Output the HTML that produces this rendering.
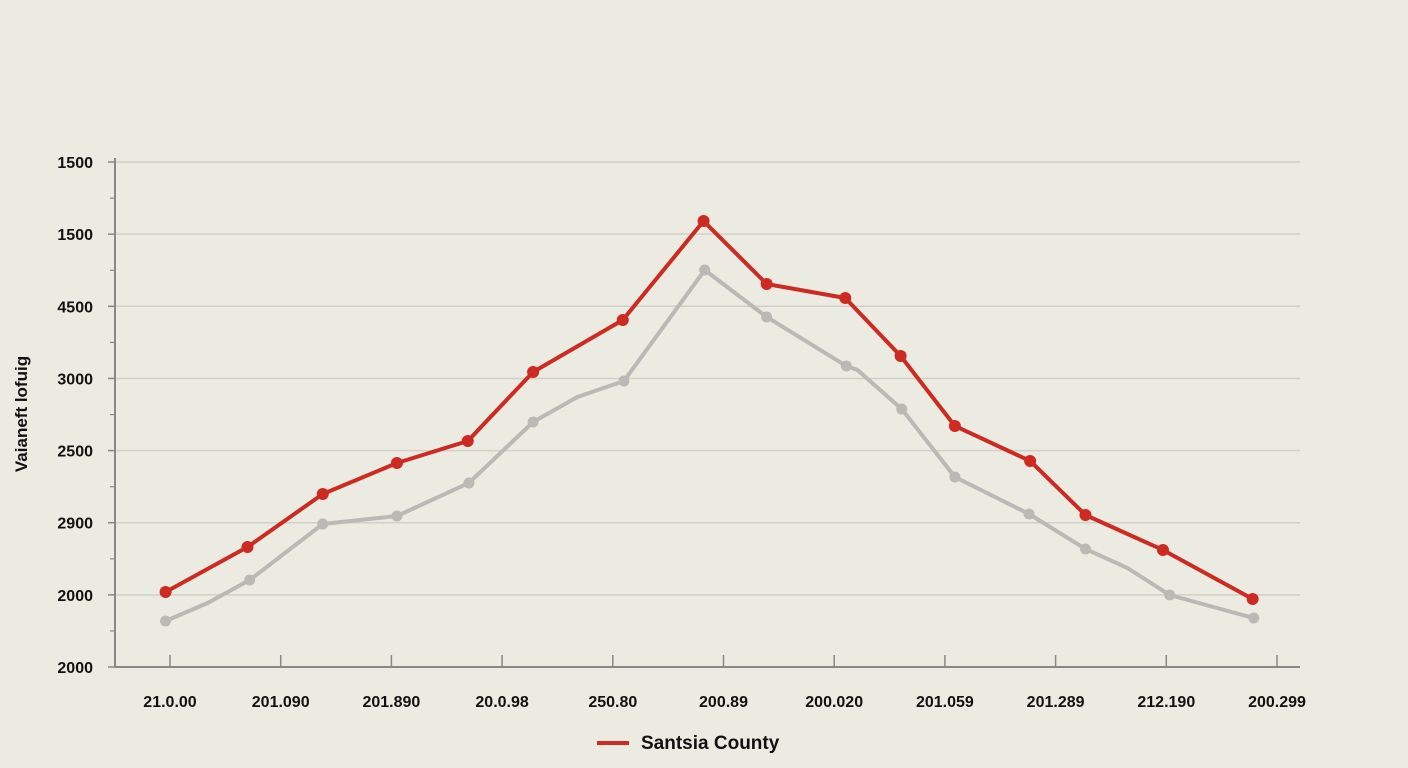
<!DOCTYPE html>
<html><head><meta charset="utf-8"><style>
body{margin:0;background:#ecebe1;}
svg{display:block;font-family:"Liberation Sans",sans-serif;}
</style></head><body>
<svg id="c" width="1408" height="768">
<rect width="1408" height="768" fill="#ecebe1"/>
</svg>
<script>
const yTickLabels=["2000","2000","2900","2500","3000","4500","1500","1500"];
const xTickLabels=["21.0.00","201.090","201.890","20.0.98","250.80","200.89","200.020","201.059","201.289","212.190","200.299"];
const redX=[-0.04,0.70,1.38,2.05,2.69,3.28,4.09,4.82,5.39,6.10,6.60,7.09,7.77,8.27,8.97,9.78];
const redY=[1040,1663,2398,2828,3133,4089,4810,6182,5309,5115,4311,3341,2856,2107,1622,943];
const grayX=[-0.04,0.34,0.72,1.38,2.05,2.70,3.28,3.68,4.10,4.83,5.39,6.11,6.21,6.61,7.09,7.76,8.27,8.65,9.03,9.79];
const grayY=[638,887,1206,1982,2093,2551,3396,3743,3964,5503,4852,4172,4117,3576,2634,2121,1636,1372,998,679];
const grayMarker=[1,0,1,1,1,1,1,0,1,1,1,1,0,1,1,1,1,0,1,1];
const NS="http://www.w3.org/2000/svg",svg=document.getElementById('c');
const x=t=>170+t*110.7, y=v=>667-v*0.07214;
function mk(tag,a,p){const e=document.createElementNS(NS,tag);for(const k in a)e.setAttribute(k,a[k]);(p||svg).appendChild(e);return e;}
yTickLabels.forEach((l,i)=>{const yy=y(i*1000);
 if(i>0){const g=mk('line',{x1:115,x2:1300,y1:yy,y2:yy,stroke:'#d2d0c6','stroke-width':1.5});
 
 }
 const t=mk('text',{x:93,y:yy+6,'text-anchor':'end','font-size':16,'font-weight':'bold',fill:'#111'});t.textContent=l;
 
 
 mk('line',{x1:108,x2:115,y1:yy,y2:yy,stroke:'#888','stroke-width':1.5});
 if(i<7)mk('line',{x1:110,x2:115,y1:yy-36,y2:yy-36,stroke:'#888','stroke-width':1.2});
});
const ya=mk('line',{x1:115,x2:115,y1:158,y2:667,stroke:'#888','stroke-width':2});


const xa=mk('line',{x1:115,x2:1300,y1:667,y2:667,stroke:'#888','stroke-width':2});


xTickLabels.forEach((l,i)=>{const xx=x(i);
 mk('line',{x1:xx,x2:xx,y1:655,y2:667,stroke:'#888','stroke-width':1.5});
 const t=mk('text',{x:xx,y:707,'text-anchor':'middle','font-size':16,'font-weight':'bold',fill:'#111'});t.textContent=l;
 
 
});
function series(xs,ys,color,r,mask,name){
 const p=mk('polyline',{points:xs.map((v,i)=>x(v)+','+y(ys[i])).join(' '),fill:'none',stroke:color,'stroke-width':4,'stroke-linejoin':'round'});
 
 
 xs.forEach((v,i)=>{if(mask&&!mask[i])return;
  const c=mk('circle',{cx:x(v),cy:y(ys[i]),r:r,fill:color});
  
  });
}
series(grayX,grayY,'#b9b9b5',5.5,grayMarker,'gray-series');
series(redX,redY,'#cc2a22',6,null,'red-series');
const yt=mk('text',{transform:'translate(27,414) rotate(-90)','text-anchor':'middle','font-size':17,'font-weight':'bold',fill:'#111'});
yt.textContent='Vaianeft lofuig';


const lg=mk('g',{});


mk('line',{x1:597,x2:629,y1:743,y2:743,stroke:'#cc2a22','stroke-width':4},lg);
const lt=mk('text',{x:641,y:749,'font-size':19,'font-weight':'bold',fill:'#111'},lg);lt.textContent='Santsia County';
</script>
</body></html>
